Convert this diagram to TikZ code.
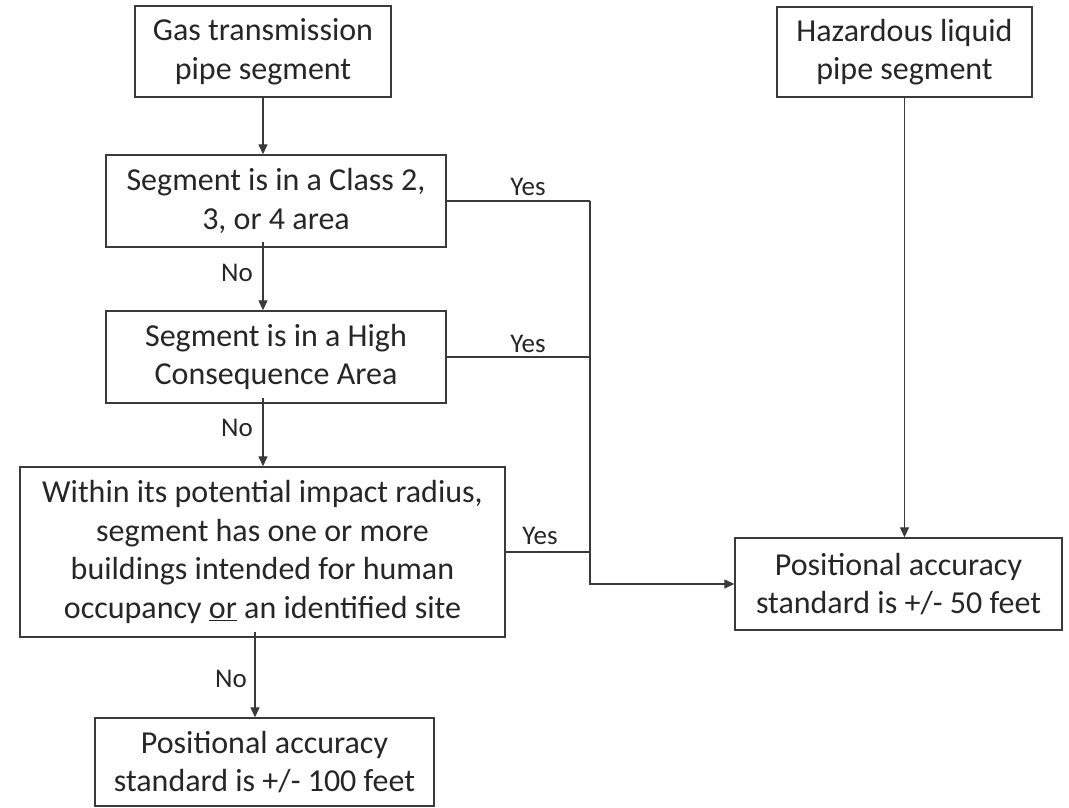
\documentclass[tikz,border=0pt]{standalone}
\usepackage{fontspec}
\setmainfont{Carlito}
\usetikzlibrary{arrows.meta}
\definecolor{ink}{HTML}{262626}
\definecolor{edge}{HTML}{3A3A3A}
\begin{document}
\begin{tikzpicture}[x=1pt,y=-1pt,
  box/.style={draw=edge, line width=1.4pt, align=center, inner sep=0pt, text=ink,
    font=\fontsize{32}{38.5}\selectfont},
  lbl/.style={text=ink, inner sep=0pt, font=\fontsize{27}{32}\selectfont},
  conn/.style={draw=edge, line width=1.3pt},
  arr/.style={conn, -{Triangle[length=10pt,width=9pt]}}]
\useasboundingbox (0,0) rectangle (1069,808);
\node[box, minimum width=256pt, minimum height=91pt] (gas) at (263,51.5) {Gas transmission\\pipe segment};
\node[box, minimum width=255pt, minimum height=90pt] (haz) at (904.5,52) {Hazardous liquid\\pipe segment};
\node[box, minimum width=340pt, minimum height=92pt] (class) at (276,201) {Segment is in a Class 2,\\3, or 4 area};
\node[box, minimum width=340pt, minimum height=92pt] (hca) at (276,357) {Segment is in a High\\Consequence Area};
\node[box, minimum width=485pt, minimum height=170pt] (within) at (262.5,552) {Within its potential impact radius,\\segment has one or more\\buildings intended for human\\occupancy \underline{or} an identified site};
\node[box, minimum width=339pt, minimum height=88pt] (acc100) at (264.5,762) {Positional accuracy\\standard is +/- 100 feet};
\node[box, minimum width=327pt, minimum height=92pt] (acc50) at (898.5,584) {Positional accuracy\\standard is +/- 50 feet};
\coordinate (J) at (590,201);
% gas chain
\draw[arr] (gas.south) -- (gas.south |- class.north);
\draw[arr] ([yshift=6pt]class.south -| gas.south) -- (gas.south |- hca.north);
\draw[arr] ([yshift=6pt]hca.south -| gas.south) -- (gas.south |- within.north);
\coordinate (d) at (255,0);
\draw[arr] ([yshift=6pt]within.south -| d) -- (d |- acc100.north);
% yes branches
\draw[conn] (class.east) -- (J);
\draw[conn] (hca.east) -- (hca.east -| J);
\draw[conn] (within.east) -- (within.east -| J);
\draw[arr] (J) -- (J |- acc50.west) -- (acc50.west);
% hazardous
\draw[arr] (haz.south) -- (haz.south |- acc50.north);
% labels
\node[lbl] (y1) at (528,187) {Yes};
\node[lbl] (y2) at (528,344) {Yes};
\node[lbl] (y3) at (540,536) {Yes};
\node[lbl] (n1) at (237,273) {No};
\node[lbl] (n2) at (237,428) {No};
\node[lbl] (n3) at (231,679) {No};
\end{tikzpicture}
\end{document}
